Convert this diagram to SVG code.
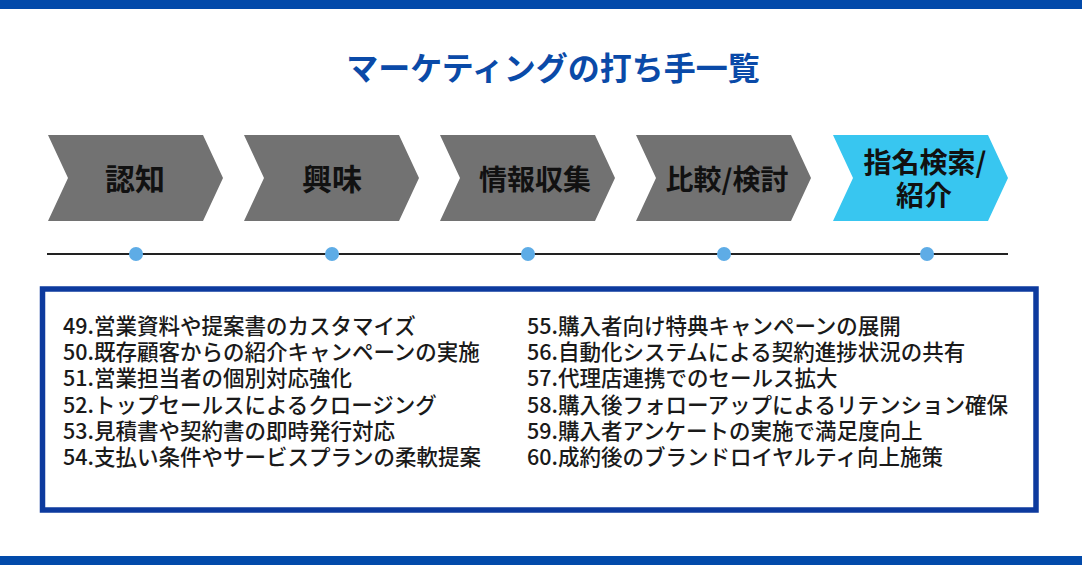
<svg xmlns="http://www.w3.org/2000/svg" width="1082" height="565" viewBox="0 0 1082 565">
<defs>
<style>
.bar{fill:#024aaa}
.title{font-family:"Noto Sans CJK JP","Noto Sans",sans-serif;font-weight:700;font-size:32px;fill:#0a4aa8;text-anchor:middle}
.chev{fill:#727272}
.chev.on{fill:#38c6f0}
.lbl{font-family:"Noto Sans CJK JP","Noto Sans",sans-serif;font-weight:700;font-size:28px;fill:#111;text-anchor:middle}
.lbl.big{font-size:30px}
.dot{fill:#5eace6}
.item{font-family:"Noto Sans CJK JP","Noto Sans",sans-serif;font-weight:500;font-size:21.5px;fill:#1a1a1a}
</style>
<polygon id="chevShape" points="0,0 155,0 175,43 155,86 0,86 20,43"/>
</defs>
<rect width="1082" height="565" fill="#ffffff"/>
<rect class="bar" x="0" y="0" width="1082" height="9"/>
<rect class="bar" x="0" y="556" width="1082" height="9"/>
<text class="title" x="553" y="80">マーケティングの打ち手一覧</text>

<g id="stage1"><use href="#chevShape" class="chev" x="48" y="135"/><text class="lbl big" x="135" y="190">認知</text></g>
<g id="stage2"><use href="#chevShape" class="chev" x="244" y="135"/><text class="lbl big" x="332" y="190">興味</text></g>
<g id="stage3"><use href="#chevShape" class="chev" x="440" y="135"/><text class="lbl" x="535" y="190">情報収集</text></g>
<g id="stage4"><use href="#chevShape" class="chev" x="636" y="135"/><text class="lbl" x="727" y="190">比較/検討</text></g>
<g id="stage5"><use href="#chevShape" class="chev on" x="833" y="135"/><text class="lbl" x="925" y="173">指名検索/</text><text class="lbl" x="924" y="206">紹介</text></g>

<g id="connectors">
<line x1="47" y1="254" x2="1008" y2="254" stroke="#222" stroke-width="2"/>
<circle class="dot" cx="136" cy="254" r="7"/>
<circle class="dot" cx="332" cy="254" r="7"/>
<circle class="dot" cx="528" cy="254" r="7"/>
<circle class="dot" cx="724" cy="254" r="7"/>
<circle class="dot" cx="927" cy="254" r="7"/>
</g>

<g id="list">
<rect x="42.5" y="289" width="993.5" height="221" fill="#fff" stroke="#0d3a9e" stroke-width="5.5"/>
<text class="item" x="63" y="334">49.営業資料や提案書のカスタマイズ</text>
<text class="item" x="63" y="360">50.既存顧客からの紹介キャンペーンの実施</text>
<text class="item" x="63" y="386">51.営業担当者の個別対応強化</text>
<text class="item" x="63" y="413">52.トップセールスによるクロージング</text>
<text class="item" x="63" y="439">53.見積書や契約書の即時発行対応</text>
<text class="item" x="63" y="465">54.支払い条件やサービスプランの柔軟提案</text>
<text class="item" x="527" y="334">55.購入者向け特典キャンペーンの展開</text>
<text class="item" x="527" y="360">56.自動化システムによる契約進捗状況の共有</text>
<text class="item" x="527" y="386">57.代理店連携でのセールス拡大</text>
<text class="item" x="527" y="413">58.購入後フォローアップによるリテンション確保</text>
<text class="item" x="527" y="439">59.購入者アンケートの実施で満足度向上</text>
<text class="item" x="527" y="465">60.成約後のブランドロイヤルティ向上施策</text>
</g>
</svg>
